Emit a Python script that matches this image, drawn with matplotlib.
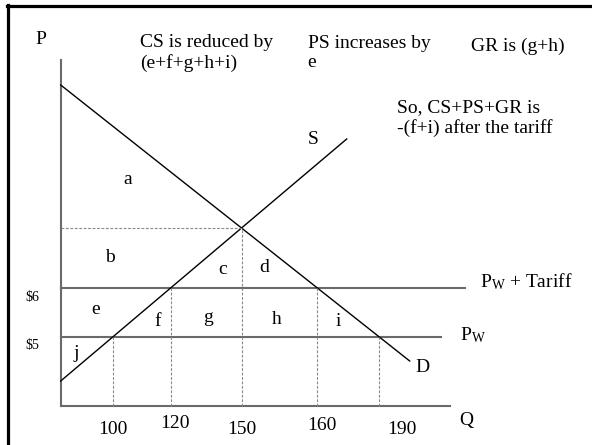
import matplotlib
matplotlib.use('Agg')
import matplotlib.pyplot as plt
import numpy as np
from matplotlib.lines import Line2D

plt.rcParams['font.family'] = 'Liberation Serif'
plt.rcParams['mathtext.fontset'] = 'custom'
plt.rcParams['mathtext.rm'] = 'Liberation Serif'
plt.rcParams['mathtext.it'] = 'Liberation Serif'

# diagram units (schematic, not to scale): origin at the axes corner
demand = np.array([[0, 321], [349, 45]])     # D endpoints
supply = np.array([[0, 25], [286, 267]])     # S endpoints
p_world = 69
p_tariff = 118
p_axis_top = 346
q_axis_end = 389
q_labels = ['100', '120', '150', '160', '190']
price_labels = ['$5', '$6']
areas = ['a', 'b', 'c', 'd', 'e', 'f', 'g', 'h', 'i', 'j']


def x_at(line, p):
    (x0, y0), (x1, y1) = line
    return x0 + (p - y0) * (x1 - x0) / (y1 - y0)


def y_at(line, x):
    (x0, y0), (x1, y1) = line
    return y0 + (x - x0) * (y1 - y0) / (x1 - x0)


# equilibrium
sd, ss = np.diff(demand, axis=0)[0], np.diff(supply, axis=0)[0]
kd, ks = sd[1] / sd[0], ss[1] / ss[0]
q_eq = (supply[0, 1] - demand[0, 1]) / (kd - ks)
p_eq = y_at(demand, q_eq)

q_s_world = x_at(supply, p_world)
q_s_tariff = x_at(supply, p_tariff)
q_d_tariff = x_at(demand, p_tariff)
q_d_world = x_at(demand, p_world)
q_marks = [q_s_world, q_s_tariff, q_eq, q_d_tariff, q_d_world]

fig = plt.figure(figsize=(5.92, 4.45), dpi=100)
ax = fig.add_axes([0, 0, 1, 1])
ax.set_xlim(-60.7, 531.3)
ax.set_ylim(-39, 406)
ax.axis('off')

# slide frame (left and top edges)
fig.add_artist(Line2D([8 / 592, 8 / 592], [0, 1 - 5 / 445], color='black', lw=2.3))
fig.add_artist(Line2D([7 / 592, 1], [1 - 6 / 445, 1 - 6 / 445], color='black', lw=2.3))

gray = '#6a6a6a'
ax.plot([0, 0], [0, p_axis_top], color=gray, lw=1.5)
ax.plot([0, q_axis_end], [0, 0], color=gray, lw=1.5)
ax.plot([0, 404], [p_tariff, p_tariff], color=gray, lw=1.5)
ax.plot([0, 380], [p_world, p_world], color=gray, lw=1.5)

ax.plot(demand[:, 0], demand[:, 1], color='black', lw=1.0)
ax.plot(supply[:, 0], supply[:, 1], color='black', lw=1.0)

dash = dict(color='#888888', lw=0.8, ls=(0, (2.5, 1.5)))
ax.plot([0, q_eq], [p_eq, p_eq], **dash)
tops = [p_world, p_tariff, p_eq, p_tariff, p_world]
for q, top in zip(q_marks, tops):
    ax.plot([q, q], [0, top], **dash)

fs = 14
q_lab_y = [-23, -18, -23, -19, -23]
q_lab_dx = [0, 4, 0, 5, 23]
for q, lab, yy, dx in zip(q_marks, q_labels, q_lab_y, q_lab_dx):
    ax.text(q + dx, yy, lab, ha='center', va='center', fontsize=fs)

ax.text(-28.5, p_world - 9, price_labels[0], ha='center', va='center', fontsize=10)
ax.text(-28.5, p_tariff - 9, price_labels[1], ha='center', va='center', fontsize=10)

area_xy = [(67, 227), (49, 148), (162, 136), (203, 138), (35, 96),
           (97, 84), (147, 88), (216, 86), (278, 84), (16, 53)]
for lab, (x, y) in zip(areas, area_xy):
    ax.text(x, y, lab, ha='center', va='center', fontsize=fs)

ax.text(-20, 367, 'P', ha='center', va='center', fontsize=fs)
ax.text(406, -14, 'Q', ha='center', va='center', fontsize=fs)
ax.text(362, 38, 'D', ha='center', va='center', fontsize=fs)
ax.text(252, 266, 'S', ha='center', va='center', fontsize=fs)
ax.text(419, p_tariff + 6, r'P$_{\mathrm{W}}$ + Tariff', ha='left', va='center', fontsize=fs)
ax.text(399, p_world + 2, r'P$_{\mathrm{W}}$', ha='left', va='center', fontsize=fs)

ax.text(79, 353, 'CS is reduced by\n(e+f+g+h+i)', ha='left', va='center',
        fontsize=fs, linespacing=1.15)
ax.text(247, 353, 'PS increases by\ne', ha='left', va='center',
        fontsize=fs, linespacing=1.15)
ax.text(410, 360, 'GR is (g+h)', ha='left', va='center', fontsize=fs)
ax.text(336, 288, 'So, CS+PS+GR is\n-(f+i) after the tariff', ha='left', va='center',
        fontsize=fs, linespacing=1.15)

fig.savefig('out.png', dpi=100)
